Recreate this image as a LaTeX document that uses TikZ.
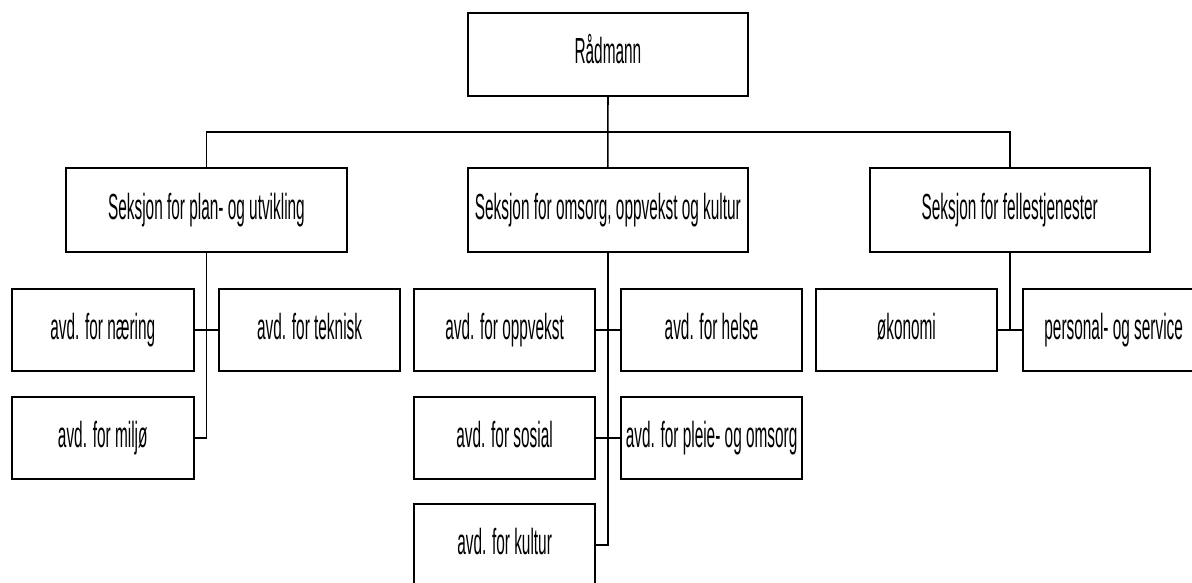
\documentclass[tikz,border=0pt]{standalone}
\usepackage{fontspec}
\setmainfont{Liberation Sans}
\newcommand{\lbl}[1]{\scalebox{0.424}[1]{\fontsize{36.3pt}{40pt}\selectfont #1}}
\tikzset{
  box/.style={draw, line width=2pt, fill=white, inner sep=0pt, outer sep=0pt,
    minimum width=181.5pt, minimum height=82pt, text height=26.5pt, text depth=7.6pt},
  sbox/.style={box, minimum width=280.4pt, minimum height=84pt},
  conn/.style={line width=1.7pt}
}
\begin{document}
\begin{tikzpicture}[x=1pt,y=-1pt]
\useasboundingbox (0,0) rectangle (1192,582);
\node[sbox, minimum height=83.3pt] (R) at (607.9,54.35) {\lbl{Rådmann}};
\node[sbox] (S1) at (206.45,209.7) {\lbl{Seksjon for plan- og utvikling}};
\node[sbox] (S2) at (607.85,209.7) {\lbl{Seksjon for omsorg, oppvekst og kultur}};
\node[sbox] (S3) at (1009.75,209.7) {\lbl{Seksjon for fellestjenester}};
\node[box] (naering) at (102.75,330.3) {\lbl{avd. for næring}};
\node[box] (teknisk) at (309.6,330.3) {\lbl{avd. for teknisk}};
\node[box] (miljo) at (102.75,437.8) {\lbl{avd. for miljø}};
\node[box] (oppvekst) at (504.6,330.3) {\lbl{avd. for oppvekst}};
\node[box] (helse) at (711.6,330.3) {\lbl{avd. for helse}};
\node[box] (sosial) at (504.6,437.8) {\lbl{avd. for sosial}};
\node[box] (pleie) at (711.6,437.8) {\lbl{avd. for pleie- og omsorg}};
\node[box] (kultur) at (504.6,545) {\lbl{avd. for kultur}};
\node[box] (okonomi) at (906.4,330.3) {\lbl{økonomi}};
\node[box] (personal) at (1113.7,330.3) {\lbl{personal- og service}};
\coordinate (busL) at (206.45,132);
\coordinate (busR) at (1009.75,132);
\draw[conn] (R.south) -- (S2.north);
\draw[conn] (S1.north) -- (busL) -- (busR) -- (S3.north);
\draw[conn] (S1.south) |- (miljo.east);
\draw[conn] (naering.east) -- (teknisk.west);
\draw[conn] (S2.south) |- (kultur.east);
\draw[conn] (oppvekst.east) -- (helse.west);
\draw[conn] (sosial.east) -- (pleie.west);
\draw[conn] (S3.south) -- (S3.south |- okonomi.east);
\draw[conn] (okonomi.east) -- (personal.west);
\end{tikzpicture}
\end{document}
